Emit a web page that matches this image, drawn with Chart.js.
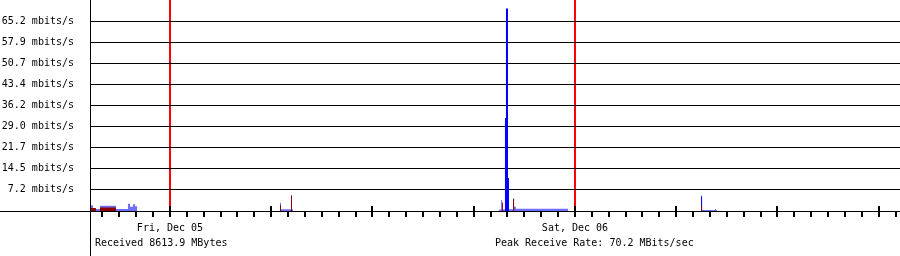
<!DOCTYPE html>
<html>
<head>
<meta charset="utf-8">
<script src="https://cdn.jsdelivr.net/npm/chart.js@4/dist/chart.umd.min.js"></script>
<style>
  html, body { margin: 0; padding: 0; background: #fff; }
  canvas { display: block; }
</style>
</head>
<body>
<canvas id="trafficChart" width="900" height="256"></canvas>
<script>
// hours relative to midnight Fri, Dec 05
const xMin = -4.74;
const xMax = 43.26;
const midnights = [0, 24];
const dayLabels = ['Fri, Dec 05', 'Sat, Dec 06'];
const footerLabels = ['Received 8613.9 MBytes', 'Peak Receive Rate: 70.2 MBits/sec'];

// y axis (mbits/s)
const yMax = 72.4;
const yTickValues = [7.24, 14.48, 21.72, 28.96, 36.2, 43.44, 50.68, 57.92, 65.16];
const yTickLabels = ['7.2', '14.5', '21.7', '29.0', '36.2', '43.4', '50.7', '57.9', '65.2'];

// received (average), stepped: value holds from time until next time
const rxAvgTimes = [-4.74, -4.56, -4.15, -3.20, -2.49, -2.37, -2.19, -2.07, -1.95,
  6.52, 6.58, 7.17, 7.23, 7.29,
  19.50, 19.62, 19.67, 20.33, 20.39, 20.50, 23.59,
  31.47, 31.53, 32.30, 32.36, 32.42, 43.26];
const rxAvgValues = [2.0, 0.7, 1.8, 0.7, 2.5, 1.5, 2.3, 1.6, 0,
  2.8, 0.6, 5.5, 0.6, 0,
  0.5, 3.8, 0.6, 4.4, 1.5, 0.8, 0,
  5.3, 0.35, 0.7, 0.35, 0, 0];

// received (peak)
const rxPeakTimes = [-4.74, 19.85, 19.91, 20.03, 20.09, 31.47, 31.53, 43.26];
const rxPeakValues = [0, 31.9, 69.5, 11.3, 0, 5.0, 0, 0];

// sent
const txTimes = [-4.74, -4.39, -4.15, -3.20, 6.52, 6.58, 7.17, 7.23,
  19.67, 19.73, 20.33, 20.39, 31.47, 31.53, 43.26];
const txValues = [1.0, 0, 1.2, 0, 2.0, 0, 5.2, 0,
  2.9, 0, 4.1, 0, 2.0, 0, 0];

const toPoints = (times, values) => times.map((t, i) => ({ x: t, y: values[i] }));

const monoFont = { family: '"DejaVu Sans Mono", monospace', size: 10 };

const stepSeries = (label, times, values, color) => ({
  label: label,
  data: toPoints(times, values),
  stepped: 'before',
  fill: 'origin',
  backgroundColor: color,
  borderColor: 'rgba(0,0,0,0)',
  borderWidth: 0,
  pointRadius: 0
});

//ticks, baseline and footer
const decorPlugin = {
  id: 'decor',
  afterDraw(chart) {
    const ctx = chart.ctx;
    const xs = chart.scales.x;
    const ys = chart.scales.y;
    const base = Math.round(ys.getPixelForValue(0));
    const left = Math.round(xs.left);
    ctx.save();
    ctx.fillStyle = '#000';
    // baseline across whole width
    ctx.fillRect(0, base, chart.width, 1);
    // y axis down to the bottom
    ctx.fillRect(left, 0, 1, chart.height);
    // hour ticks, big every 6 hours
    for (let h = Math.ceil(xMin); h <= Math.floor(xMax); h++) {
      const px = Math.round(xs.getPixelForValue(h));
      const big = h % 6 === 0;
      ctx.fillRect(px - 1, big ? base - 5 : base, 2, big ? 11 : 6);
    }
    ctx.font = '10px "DejaVu Sans Mono", monospace';
    ctx.textBaseline = 'middle';
    ctx.textAlign = 'left';
    ctx.fillText(footerLabels[0], 95, 243);
    ctx.fillText(footerLabels[1], 495, 243);
    ctx.restore();
  }
};

new Chart(document.getElementById('trafficChart'), {
  type: 'line',
  data: {
    datasets: [
      stepSeries('Sent', txTimes, txValues, '#8c0000'),
      stepSeries('Received peak', rxPeakTimes, rxPeakValues, '#0000ff'),
      stepSeries('Received', rxAvgTimes, rxAvgValues, '#7070ff')
    ]
  },
  plugins: [decorPlugin],
  options: {
    responsive: false,
    animation: false,
    events: [],
    layout: { padding: 0 },
    plugins: {
      legend: { display: false },
      tooltip: { enabled: false }
    },
    scales: {
      x: {
        type: 'linear',
        min: xMin,
        max: xMax,
        z: 1,
        afterBuildTicks: (scale) => {
          scale.ticks = midnights.map(v => ({ value: v }));
        },
        afterFit: (scale) => {
          scale.height = 45;
          scale.paddingLeft = 0;
          scale.paddingRight = 0;
        },
        ticks: {
          autoSkip: false,
          maxRotation: 0,
          color: '#000',
          font: monoFont,
          padding: 11,
          callback: (value, index) => dayLabels[index]
        },
        grid: {
          color: '#ff0000',
          lineWidth: 2,
          drawTicks: false
        },
        border: { display: false }
      },
      y: {
        min: 0,
        max: yMax,
        afterBuildTicks: (scale) => {
          scale.ticks = yTickValues.map(v => ({ value: v }));
        },
        afterFit: (scale) => {
          scale.width = 90;
          scale.paddingTop = 0;
          scale.paddingBottom = 0;
        },
        ticks: {
          color: '#000',
          font: monoFont,
          padding: 16,
          callback: (value, index) => yTickLabels[index] + ' mbits/s'
        },
        grid: {
          color: '#000',
          lineWidth: 1,
          drawTicks: false
        },
        border: { display: false }
      }
    }
  }
});
</script>
</body>
</html>
